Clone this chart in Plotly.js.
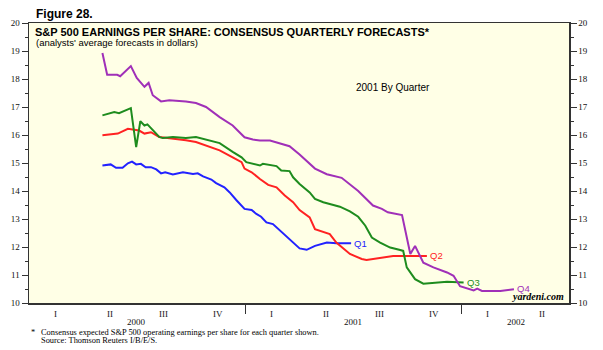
<!DOCTYPE html>
<html>
<head>
<meta charset="utf-8">
<script src="https://cdn.plot.ly/plotly-3.0.1.min.js"></script>
<style>html,body{margin:0;padding:0;background:#fff;}#chart{width:603px;height:350px;}</style>
</head>
<body>
<div id="chart"></div>
<script>
// ---- data ----
const q1Dates = ['2000-05-04','2000-05-18','2000-05-27','2000-06-07','2000-06-16','2000-06-23','2000-06-30','2000-07-08','2000-07-16','2000-07-25','2000-08-03','2000-08-11','2000-08-18','2000-08-31','2000-09-17','2000-10-04','2000-10-12','2000-10-21','2000-11-04','2000-11-12','2000-11-26','2000-12-05','2000-12-16','2000-12-30','2001-01-11','2001-01-19','2001-01-27','2001-02-05','2001-02-16','2001-02-28','2001-03-16','2001-04-02','2001-04-14','2001-04-28','2001-05-18','2001-06-03','2001-06-28'];
const q1Values = [14.91,14.95,14.83,14.83,14.99,15.05,14.95,14.97,14.85,14.85,14.77,14.63,14.67,14.59,14.67,14.61,14.63,14.52,14.41,14.28,14.13,13.95,13.68,13.36,13.32,13.18,13.08,12.88,12.82,12.58,12.28,11.95,11.90,12.04,12.16,12.13,12.13];

const q2Dates = ['2000-05-04','2000-05-30','2000-06-16','2000-06-27','2000-07-05','2000-07-14','2000-07-25','2000-08-08','2000-08-25','2000-09-22','2000-10-09','2000-10-26','2000-11-18','2000-12-10','2000-12-25','2000-12-30','2001-01-11','2001-01-25','2001-02-08','2001-02-22','2001-03-08','2001-03-22','2001-04-02','2001-04-19','2001-04-28','2001-05-23','2001-06-03','2001-06-26','2001-07-16','2001-07-24','2001-09-07','2001-11-03'];
const q2Values = [15.99,16.05,16.22,16.19,16.16,16.05,16.10,15.93,15.89,15.81,15.75,15.63,15.45,15.20,15.03,14.80,14.67,14.43,14.22,14.13,13.84,13.60,13.32,13.06,12.64,12.46,12.16,11.75,11.57,11.54,11.68,11.68];

const q3Dates = ['2000-05-04','2000-05-24','2000-06-01','2000-06-21','2000-06-30','2000-07-07','2000-07-14','2000-07-19','2000-08-08','2000-08-14','2000-08-31','2000-09-22','2000-10-09','2000-10-26','2000-11-18','2000-12-10','2000-12-25','2001-01-02','2001-01-13','2001-01-25','2001-01-30','2001-02-22','2001-03-02','2001-03-16','2001-03-22','2001-04-02','2001-04-19','2001-04-28','2001-05-12','2001-06-09','2001-06-26','2001-07-10','2001-07-22','2001-08-02','2001-08-16','2001-09-02','2001-09-19','2001-09-24','2001-09-30','2001-10-14','2001-10-28','2001-11-14','2001-12-07','2002-01-04'];
const q3Values = [16.70,16.82,16.78,16.96,15.57,16.49,16.34,16.38,15.93,15.89,15.93,15.89,15.93,15.83,15.71,15.40,15.20,15.03,14.97,14.91,14.97,14.89,14.73,14.71,14.49,14.25,13.95,13.72,13.60,13.44,13.27,13.08,12.76,12.34,12.16,11.98,11.89,11.86,11.27,10.85,10.69,10.73,10.76,10.73];

const q4Dates = ['2000-05-04','2000-05-12','2000-05-29','2000-06-03','2000-06-21','2000-07-01','2000-07-14','2000-07-21','2000-07-28','2000-08-11','2000-08-25','2000-09-22','2000-10-09','2000-10-26','2000-11-18','2000-12-10','2000-12-30','2001-01-13','2001-01-25','2001-02-11','2001-03-16','2001-04-02','2001-04-28','2001-05-18','2001-06-12','2001-06-26','2001-07-10','2001-08-04','2001-08-19','2001-08-29','2001-09-22','2001-10-06','2001-10-14','2001-10-28','2001-11-14','2001-12-07','2001-12-18','2001-12-29','2002-01-21','2002-01-27','2002-02-04','2002-03-07','2002-03-30'];
const q4Values = [18.93,18.15,18.15,18.10,18.46,18.04,17.72,17.86,17.42,17.20,17.24,17.20,17.14,17.00,16.64,16.34,15.92,15.84,15.80,15.80,15.60,15.30,14.80,14.60,14.47,14.25,14.00,13.48,13.36,13.24,13.14,11.75,12.04,11.44,11.27,11.09,10.97,10.60,10.45,10.51,10.43,10.43,10.49];

const seriesNames = ['Q1','Q2','Q3','Q4'];
const seriesColors = ['#2222FF','#FF2222','#1E8C1E','#A030B8'];

const quarterLabels = ['I','II','III','IV','I','II','III','IV','I','II'];
const quarterMids = ['2000-02-15','2000-05-16','2000-08-15','2000-11-15','2001-02-14','2001-05-16','2001-08-15','2001-11-15','2002-02-14','2002-05-16'];
const yearLabels = ['2000','2001','2002'];
const yearMids = ['2000-07-01','2001-07-02','2002-04-03'];
const yearBreaks = ['2001-01-01','2002-01-01'];

// ---- chart ----
const serif = 'Liberation Serif, Times New Roman, serif';
const sans = 'Liberation Sans, Arial, Helvetica, sans-serif';
const allDates = [q1Dates,q2Dates,q3Dates,q4Dates];
const allValues = [q1Values,q2Values,q3Values,q4Values];

const traces = allDates.map((d,i) => ({
  type:'scatter', mode:'lines', x:d, y:allValues[i], name:seriesNames[i],
  line:{color:seriesColors[i], width:2}, hoverinfo:'skip'
}));
// invisible copy so the right-hand axis is drawn
traces.push({type:'scatter', mode:'lines', x:q1Dates, y:q1Values, yaxis:'y2',
  line:{width:0}, opacity:0, showlegend:false, hoverinfo:'skip'});

const annotations = [];
seriesNames.forEach((n,i) => {
  const d = allDates[i], v = allValues[i];
  annotations.push({x:d[d.length-1], y:v[v.length-1], xref:'x', yref:'y', text:n,
    showarrow:false, xanchor:'left', yanchor:'middle', xshift:2, yshift:(i===3?1:0), borderpad:0,
    font:{family:sans, size:9.5, color:seriesColors[i]}});
});
quarterLabels.forEach((q,i) => annotations.push({x:quarterMids[i], y:-0.039, xref:'x', yref:'paper',
  text:q, showarrow:false, xanchor:'center', yanchor:'middle', borderpad:0, font:{family:serif, size:9, color:'#111'}}));
yearLabels.forEach((yv,i) => annotations.push({x:yearMids[i], y:-0.068, xref:'x', yref:'paper',
  text:yv, showarrow:false, xanchor:'center', yanchor:'middle', borderpad:0, font:{family:serif, size:9, color:'#111'}}));

annotations.push(
  {xref:'paper', yref:'paper', x:0.009, y:1.032, text:'<b>Figure 28.</b>', showarrow:false,
   xanchor:'left', yanchor:'middle', font:{family:sans, size:12, color:'#000'}},
  {xref:'paper', yref:'paper', x:0.009, y:0.929, text:"(analysts' average forecasts in dollars)", showarrow:false,
   xanchor:'left', yanchor:'middle', font:{family:sans, size:9.5, color:'#000'}},
  {xref:'paper', yref:'paper', x:0.602, y:0.771, text:'2001 By Quarter', showarrow:false,
   xanchor:'left', yanchor:'middle', font:{family:sans, size:10, color:'#000'}},
  {xref:'paper', yref:'paper', x:0.993, y:0.0, text:'<b><i>yardeni.com</i></b>', showarrow:false,
   xanchor:'right', yanchor:'bottom', borderpad:0, font:{family:serif, size:10, color:'#000'}},
  {xref:'paper', yref:'paper', x:0.002, y:-0.106, text:'*', showarrow:false, borderpad:0,
   xanchor:'left', yanchor:'middle', font:{family:serif, size:8.4, color:'#000'}},
  {xref:'paper', yref:'paper', x:0.02, y:-0.106, text:'Consensus expected S&P 500 operating earnings per share for each quarter shown.', showarrow:false,
   xanchor:'left', yanchor:'middle', borderpad:0, font:{family:serif, size:8.4, color:'#000'}},
  {xref:'paper', yref:'paper', x:0.02, y:-0.135, text:'Source: Thomson Reuters I/B/E/S.', showarrow:false,
   xanchor:'left', yanchor:'middle', borderpad:0, font:{family:serif, size:8.4, color:'#000'}}
);

const yCommon = {
  range:[10,20], dtick:1, tick0:10, ticks:'outside', ticklen:6, tickwidth:1, tickcolor:'#333',
  minor:{dtick:0.5, ticks:'outside', ticklen:3, tickcolor:'#333'},
  showgrid:false, zeroline:false, showline:true, linecolor:'#333', linewidth:1.5,
  tickfont:{family:serif, size:9, color:'#111'}, fixedrange:true
};

const layout = {
  width:603, height:350,
  margin:{l:29, r:34, t:23, b:47, pad:0},
  paper_bgcolor:'#ffffff', plot_bgcolor:'#FFFFE6',
  showlegend:false,
  title:{text:'<b>S&P 500 EARNINGS PER SHARE: CONSENSUS QUARTERLY FORECASTS*</b>',
    x:0.058, xanchor:'left', xref:'container', y:0.908, yanchor:'middle', yref:'container',
    font:{family:sans, size:11, color:'#000'}},
  xaxis:{type:'date', range:['2000-01-01','2002-07-01'], tickvals:yearBreaks, ticktext:['',''],
    ticks:'outside', ticklen:9, tickwidth:1, tickcolor:'#333', showgrid:false, zeroline:false,
    showline:true, linecolor:'#333', linewidth:1.5, mirror:true, fixedrange:true},
  yaxis:Object.assign({side:'left', mirror:true}, yCommon),
  yaxis2:Object.assign({side:'right', overlaying:'y'}, yCommon),
  annotations:annotations
};

Plotly.newPlot('chart', traces, layout, {displayModeBar:false, staticPlot:true});
</script>
</body>
</html>
